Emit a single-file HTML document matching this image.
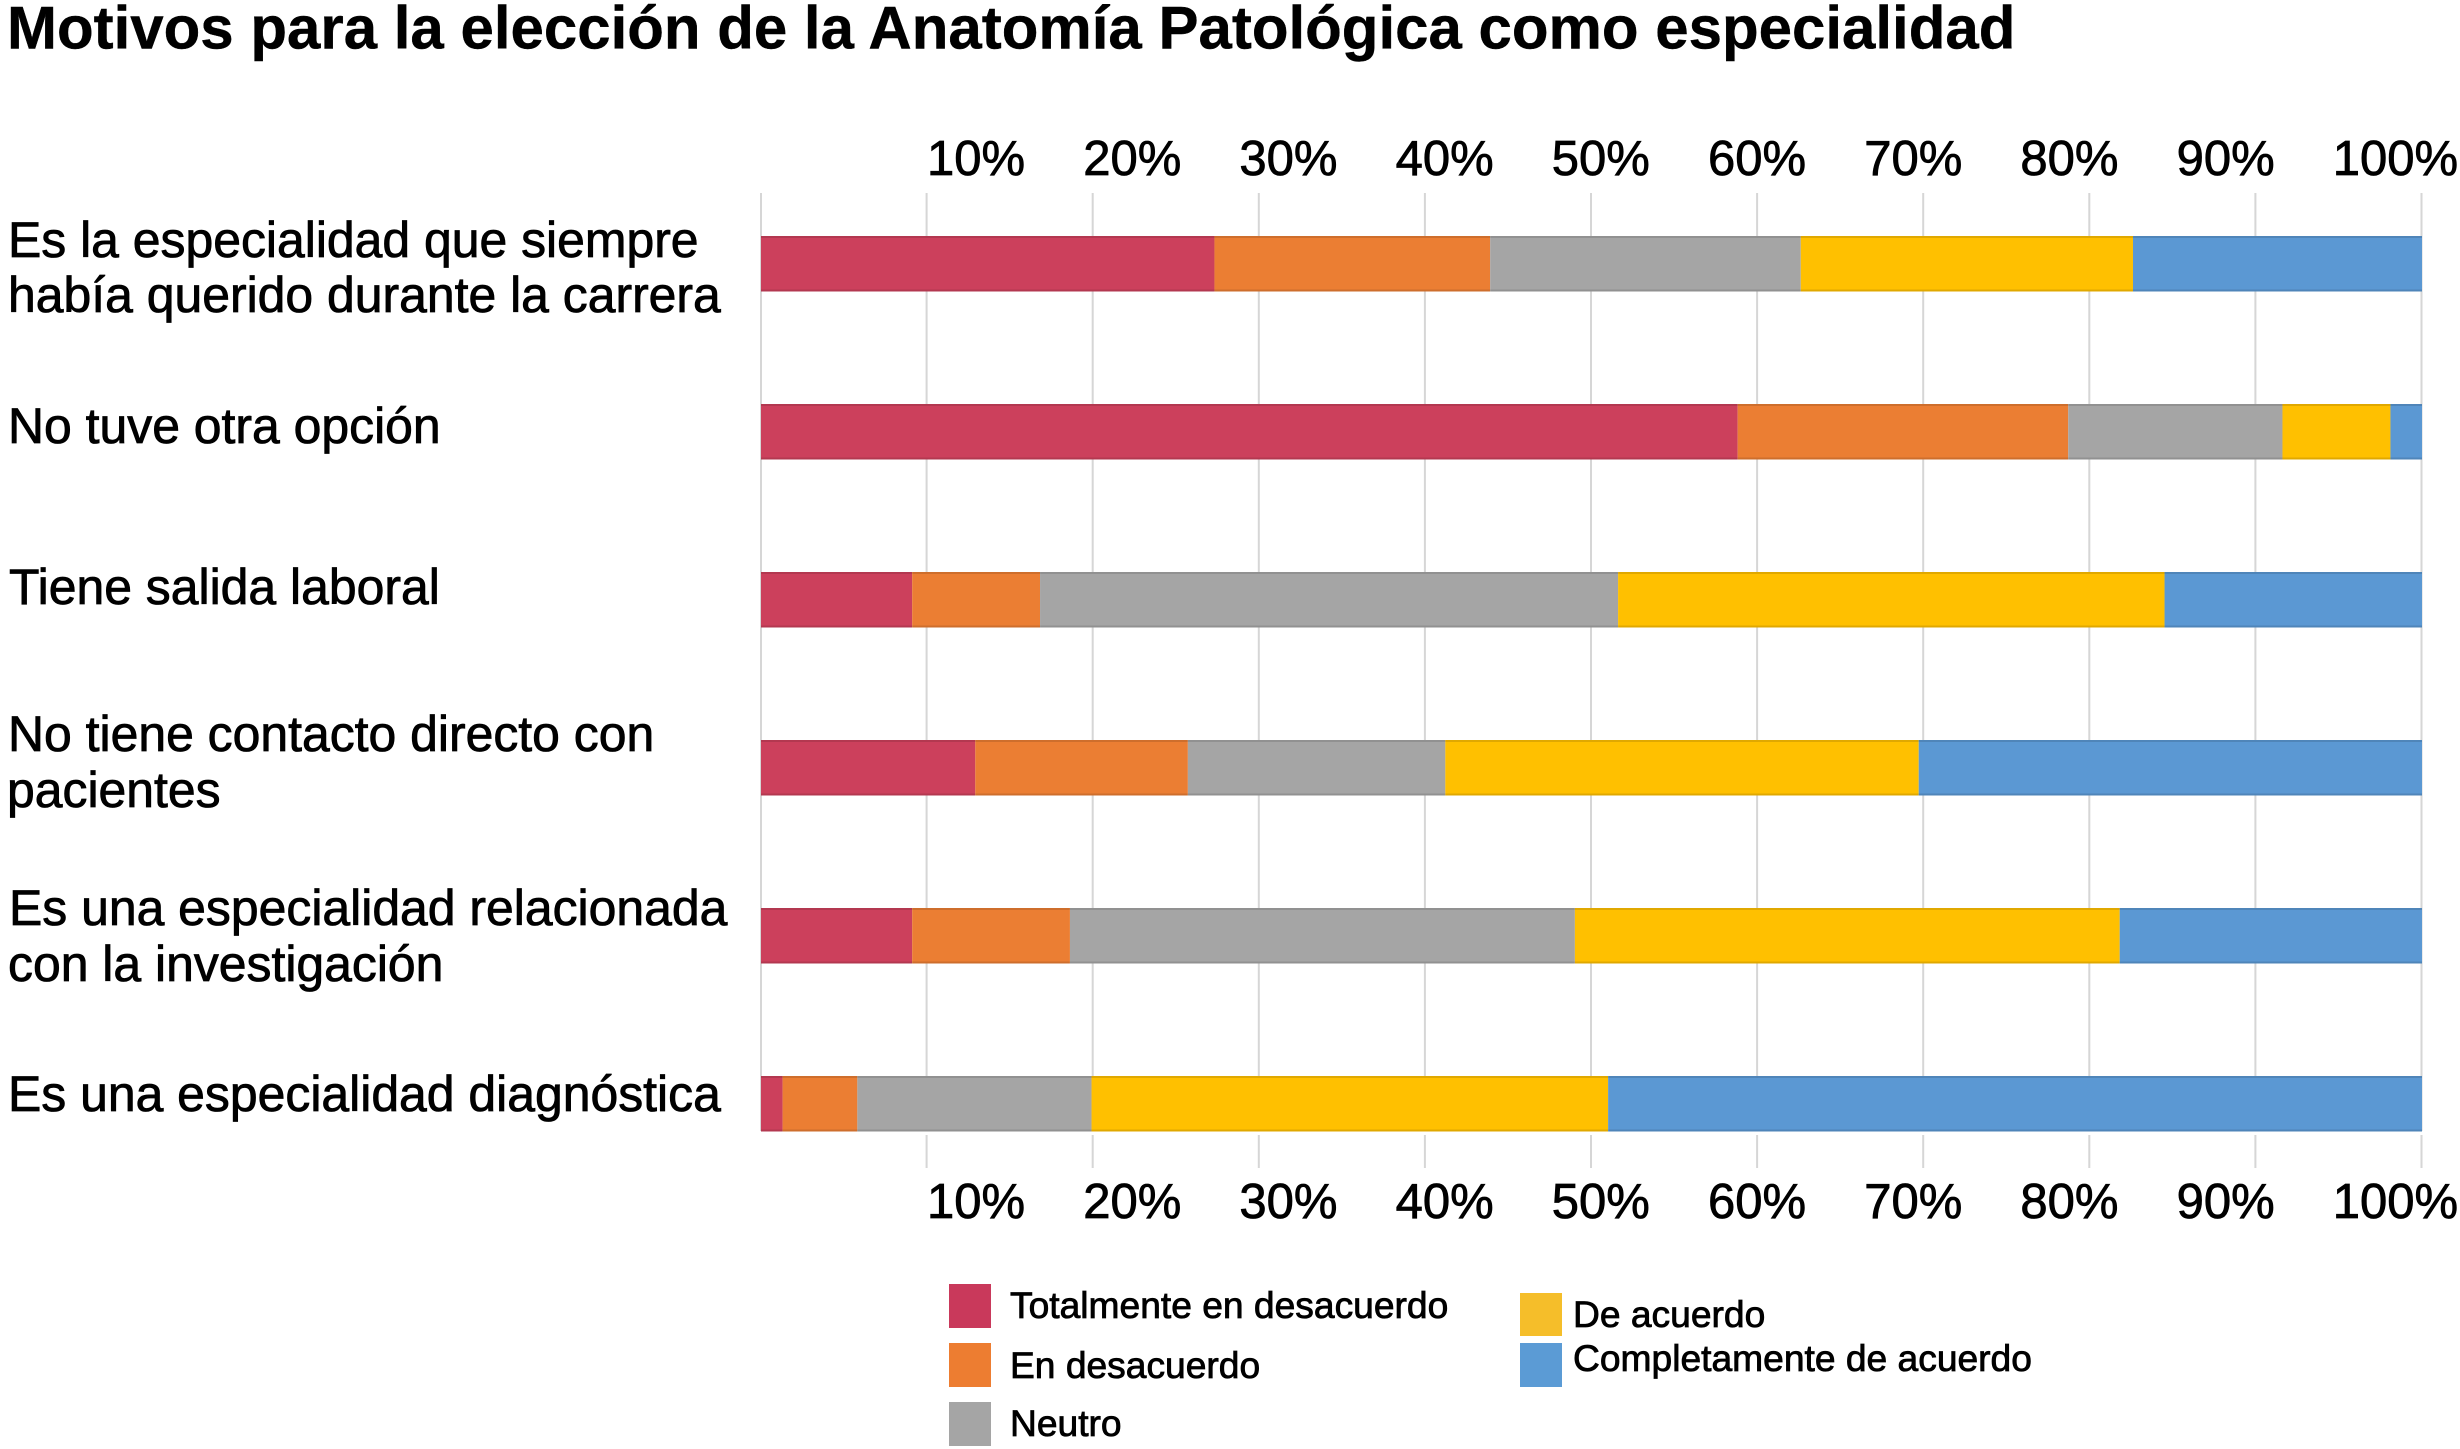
<!DOCTYPE html>
<html lang="es">
<head>
<meta charset="utf-8">
<title>Motivos para la elección de la Anatomía Patológica como especialidad</title>
<style>
html,body{margin:0;padding:0;background:#fff;width:2460px;height:1449px;overflow:hidden}
svg{display:block}
text{font-family:"Liberation Sans",Arial,sans-serif;fill:#000;stroke:#000;stroke-width:.8px}
.cat{font-size:49.9px}
.leg{font-size:37.2px}
.tick{font-size:49px}
.title{font-size:60px;font-weight:bold;stroke-width:.4px}
</style>
</head>
<body>
<svg id="chart" width="2460" height="1449" viewBox="0 0 2460 1449" xmlns="http://www.w3.org/2000/svg">
  <rect x="0" y="0" width="2460" height="1449" fill="#fff" stroke="none"/>
  <text class="title" x="7" y="48.5">Motivos para la elección de la Anatomía Patológica como especialidad</text>
  <g id="grid"></g>
  <g id="bars"></g>
  <g id="ticksTop"></g>
  <g id="ticksBottom"></g>

  <g>
    <text class="cat" x="8" y="257">Es la especialidad que siempre</text>
    <text class="cat" x="8" y="312">había querido durante la carrera</text>
    <text class="cat" x="8" y="443">No tuve otra opción</text>
    <text class="cat" x="9" y="604">Tiene salida laboral</text>
    <text class="cat" x="8" y="751">No tiene contacto directo con</text>
    <text class="cat" x="7" y="807">pacientes</text>
    <text class="cat" x="9" y="925">Es una especialidad relacionada</text>
    <text class="cat" x="8" y="981">con la investigación</text>
    <text class="cat" x="8" y="1111">Es una especialidad diagnóstica</text>
  </g>

  <g>
    <g>
      <rect x="949" y="1284" width="42" height="44" fill="#C9395B" stroke="none"/>
      <text class="leg" x="1010" y="1318">Totalmente en desacuerdo</text>
    </g>
    <g>
      <rect x="949" y="1343" width="42" height="44" fill="#ED7D31" stroke="none"/>
      <text class="leg" x="1010" y="1378">En desacuerdo</text>
    </g>
    <g>
      <rect x="949" y="1402" width="42" height="44" fill="#A5A5A5" stroke="none"/>
      <text class="leg" x="1010" y="1436">Neutro</text>
    </g>
    <g>
      <rect x="1520" y="1293" width="42" height="43" fill="#F5BE2A" stroke="none"/>
      <text class="leg" x="1573" y="1327">De acuerdo</text>
    </g>
    <g>
      <rect x="1520" y="1343" width="42" height="44" fill="#5B9BD5" stroke="none"/>
      <text class="leg" x="1573" y="1371">Completamente de acuerdo</text>
    </g>
  </g>
</svg>
<script>
var categories = ['siempre-querido', 'otra-opcion', 'salida-laboral', 'contacto-pacientes', 'investigacion', 'diagnostica'];
var totalmenteEnDesacuerdo = [27.3, 58.8, 9.1, 12.9, 9.1, 1.3];
var enDesacuerdo = [16.6, 19.9, 7.7, 12.8, 9.5, 4.5];
var neutro = [18.7, 12.9, 34.8, 15.5, 30.4, 14.1];
var deAcuerdo = [20.0, 6.5, 32.9, 28.5, 32.8, 31.1];
var completamenteDeAcuerdo = [17.4, 1.9, 15.5, 30.3, 18.2, 49.0];
var tickValues = [10, 20, 30, 40, 50, 60, 70, 80, 90, 100];
var tickLabels = ['10%', '20%', '30%', '40%', '50%', '60%', '70%', '80%', '90%', '100%'];

var seriesValues = [totalmenteEnDesacuerdo, enDesacuerdo, neutro, deAcuerdo, completamenteDeAcuerdo];
var seriesNames = ['totalmente-en-desacuerdo', 'en-desacuerdo', 'neutro', 'de-acuerdo', 'completamente-de-acuerdo'];
var seriesColors = ['#CC405C', '#EB7E33', '#A5A5A5', '#FFC000', '#5B98D3'];

var NS = 'http://www.w3.org/2000/svg';
function xScale(v) { return 761 + v * 16.61; }
function yBand(i) { return 236 + i * 168; }
function tickLabelX(v) { return 770.8 + v * 15.62; }
var BAR_H = 55.5;

function makeRect(x, y, w, h, fill) {
  var r = document.createElementNS(NS, 'rect');
  r.setAttribute('x', x);
  r.setAttribute('y', y);
  r.setAttribute('width', w);
  r.setAttribute('height', h);
  r.setAttribute('fill', fill);
  r.setAttribute('stroke', 'none');
  return r;
}

var gridG = document.getElementById('grid');
var axisLine = makeRect(xScale(0) - 1, 193, 2, 938, '#d6d6d6');


gridG.appendChild(axisLine);
tickValues.forEach(function (v) {
  var upper = makeRect(xScale(v) - 1.5, 193, 2, 938, '#d6d6d6');
  
  
  gridG.appendChild(upper);
  var lower = makeRect(xScale(v) - 1.5, 1135, 2, 33, '#d6d6d6');
  
  
  gridG.appendChild(lower);
});

var barsG = document.getElementById('bars');
categories.forEach(function (cat, i) {
  var cum = 0;
  var rowG = document.createElementNS(NS, 'g');
  
  
  seriesValues.forEach(function (vals, s) {
    var x0 = xScale(cum);
    var x1 = xScale(cum + vals[i]);
    cum += vals[i];
    var seg = makeRect(x0, yBand(i), x1 - x0, BAR_H, seriesColors[s]);
    
    
    rowG.appendChild(seg);
    var edgeTop = makeRect(x0, yBand(i), x1 - x0, 2, 'rgba(0,0,0,0.12)');
    
    
    rowG.appendChild(edgeTop);
    var edgeBottom = makeRect(x0, yBand(i) + BAR_H - 2, x1 - x0, 2, 'rgba(0,0,0,0.12)');
    
    
    rowG.appendChild(edgeBottom);
  });
  barsG.appendChild(rowG);
});

function drawTicks(groupId, baseline, prefix) {
  var g = document.getElementById(groupId);
  tickValues.forEach(function (v, i) {
    var t = document.createElementNS(NS, 'text');
    t.setAttribute('class', 'tick');
    t.setAttribute('x', tickLabelX(v));
    t.setAttribute('y', baseline);
    
    
    t.textContent = tickLabels[i];
    g.appendChild(t);
  });
}
drawTicks('ticksTop', 175, 'top');
drawTicks('ticksBottom', 1218, 'bottom');
</script>
</body>
</html>
